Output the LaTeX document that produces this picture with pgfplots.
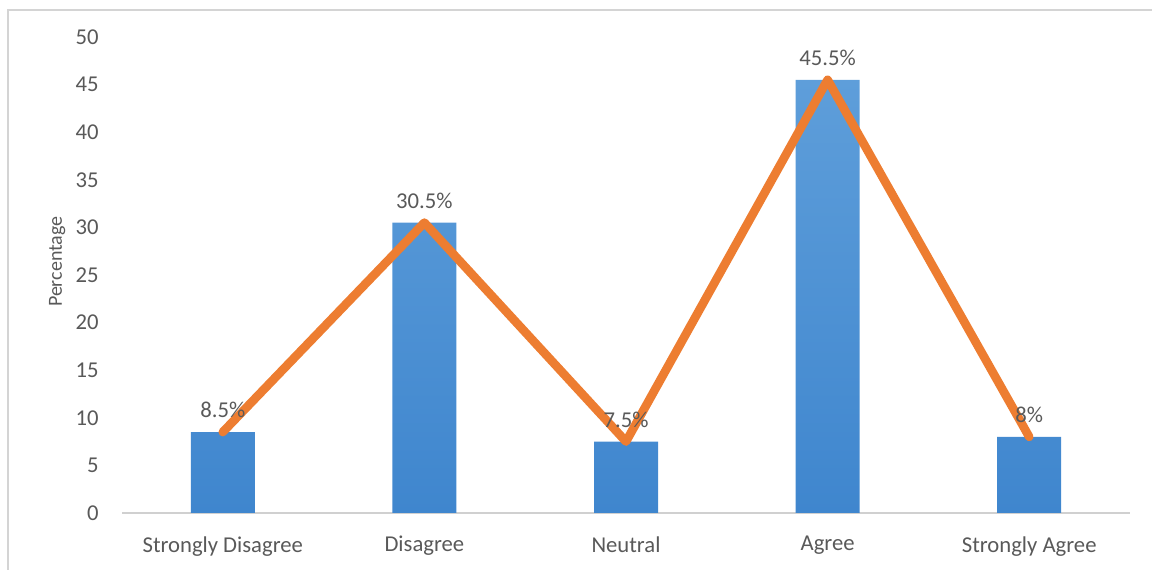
\documentclass[border=0pt]{standalone}
\usepackage{pgfplots}
\pgfplotsset{compat=1.18}
\usepackage{fontspec}
\setmainfont{Carlito}
\definecolor{txt}{HTML}{595959}
\definecolor{barA}{HTML}{5E9EDA}
\definecolor{barB}{HTML}{3F86CE}
\definecolor{lineO}{HTML}{ED7D31}
\definecolor{frameG}{HTML}{D4D4D4}
\definecolor{axisG}{HTML}{D0D0D0}
\begin{document}
\begin{tikzpicture}
\useasboundingbox (0pt,0pt) rectangle (864pt,427.5pt);
\draw[frameG, line width=1.5pt] (6pt,0pt) -- (6pt,420pt) -- (864pt,420pt);
\begin{axis}[
  at={(91.5pt,42.75pt)}, anchor=south west,
  scale only axis, width=756pt, height=357pt,
  xmin=-0.5, xmax=4.5, ymin=0, ymax=50,
  ytick={0,5,...,50},
  xtick={0,1,2,3,4},
  xticklabels={Strongly Disagree, Disagree, Neutral, Agree, Strongly Agree},
  axis line style={draw=none},
  axis x line*=bottom, axis y line*=left,
  major tick length=0pt,
  tick style={draw=none},
  font=\fontsize{17}{20}\selectfont,
  tick label style={text=txt, font=\fontsize{17}{20}\selectfont},
  /pgf/number format/assume math mode=true,
  yticklabel style={xshift=-14pt},
  xticklabel style={yshift=-14pt},
  ylabel={Percentage},
  ylabel style={text=txt, font=\fontsize{15}{17}\selectfont, at={(ticklabel* cs:0.5)}, xshift=10pt, yshift=39pt},
  clip=false,
]
\draw[axisG, line width=1.2pt] (axis cs:-0.5,0) -- (axis cs:4.5,0);
\addplot[ybar, bar width=48pt, draw=none, top color=barA, bottom color=barB,
  nodes near coords={\pgfmathprintnumber[assume math mode=true]{\pgfplotspointmeta}\%},
  every node near coord/.append style={text=txt, font=\fontsize{17}{20}\selectfont, yshift=7pt}]
  coordinates {(0,8.5) (1,30.5) (2,7.5) (3,45.5) (4,8)};
\addplot[sharp plot, lineO, line width=6.5pt, line join=round, line cap=round, mark=none]
  coordinates {(0,8.5) (1,30.5) (2,7.5) (3,45.5) (4,8)};
\end{axis}
\end{tikzpicture}
\end{document}
